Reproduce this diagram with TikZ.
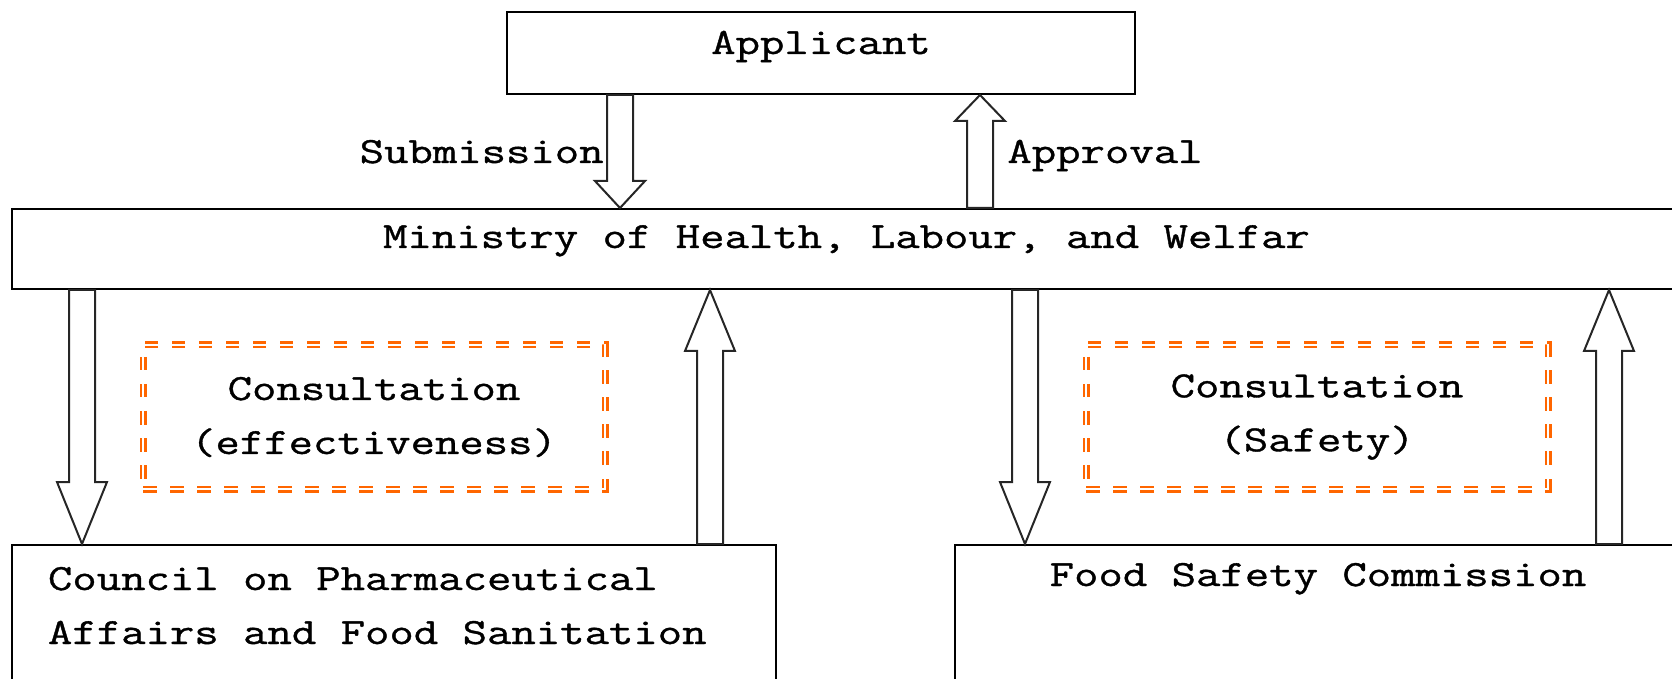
\documentclass[tikz,border=0pt]{standalone}
\usepackage{fontspec}
\setmonofont{Latin Modern Mono}[FakeStretch=1.28, FakeBold=1]
\usepackage{tikz}
\usetikzlibrary{calc}
\definecolor{consorange}{HTML}{FF6600}

\begin{document}
\begin{tikzpicture}[x=0.5pt, y=-0.5pt,
        font=\ttfamily\fontsize{18.5}{27}\selectfont,
        box/.style={draw, line width=1pt, anchor=north west, inner ysep=0pt},
        consult/.style={draw=consorange, double, double distance=1pt, line width=1.25pt,
            dash pattern=on 6.75pt off 6.75pt, minimum width=231pt, minimum height=72pt, align=center},
        blockarrow/.style={draw=black!85, line width=1pt, fill=white}]
        \clip (0,0) rectangle (1672,679);
        % Boxes
        \node[box, minimum width=314pt, text height=21pt, text depth=20pt] (app) at (506,11) {Applicant};
        \node[box, minimum width=834.5pt, text height=19.5pt, text depth=20.5pt] (min) at (11,208)
            {Ministry of Health, Labour, and Welfar};
        \node[box, inner xsep=18pt, align=left, text height=49.5pt, text depth=28.5pt] (cpa) at (11,544)
            {\makebox[346pt][l]{Council on Pharmaceutical}\\Affairs and Food Sanitation};
        \node[box, minimum width=363pt, text height=20.5pt, text depth=57.5pt] (fsc) at (954,544)
            {Food Safety Commission};
        % Consultation boxes
        \node[consult] (coneff) at (374,417) {Consultation\\(effectiveness)};
        \node[consult] (consaf) at (1317,417) {Consultation\\(Safety)};
        % Block arrows: x position / tail / tip / head length
        \foreach \px/\a/\b/\h in {620/app.south/min.north/13.5pt, 980/min.north/app.south/13pt,
                82/min.south/cpa.north/31pt, 710/cpa.north/min.south/30.5pt,
                1025/min.south/fsc.north/31pt, 1609/fsc.north/min.south/30.5pt} {
            \coordinate (c) at (\px,0);
            \draw[blockarrow] let \p1=(c |- \a), \p2=(c |- \b), \p3=($(\p2)!\h!(\p1)$) in
                (\x1-6.5pt,\y1) -- (\x1-6.5pt,\y3) -- (\x1-12.5pt,\y3) -- (\p2)
                -- (\x1+12.5pt,\y3) -- (\x1+6.5pt,\y3) -- (\x1+6.5pt,\y1) -- cycle;
        }
        % Arrow labels
        \node[anchor=base east, inner sep=0pt] (sub) at (604,163) {Submission};
        \node[anchor=base west, inner sep=0pt] (apr) at (1007,163) {Approval};
    \end{tikzpicture}
\end{document}
